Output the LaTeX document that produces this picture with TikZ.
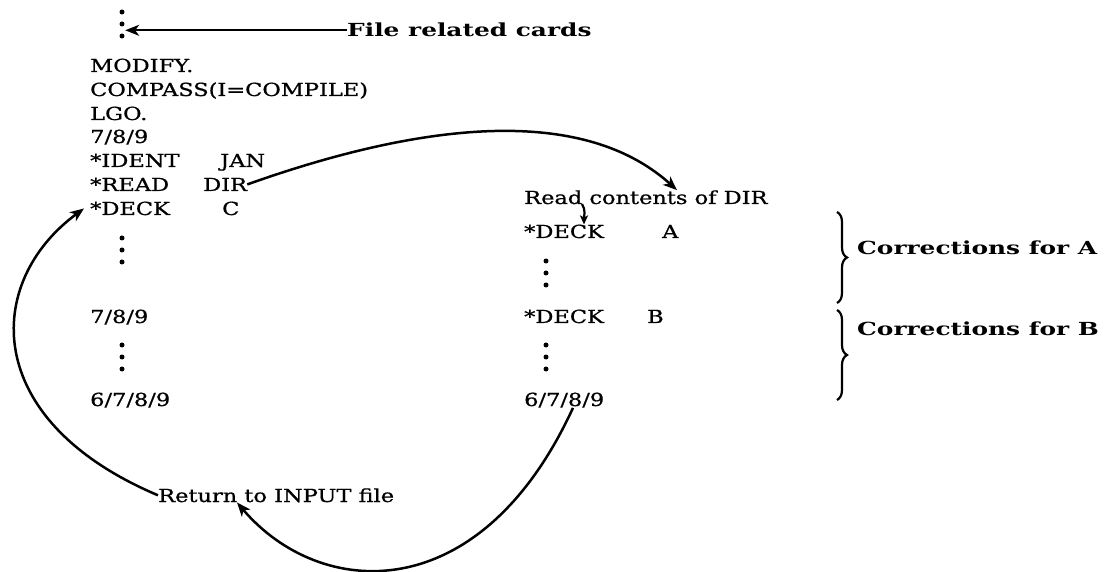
\documentclass[tikz,border=0pt]{standalone}
\usepackage{fontspec}
\setmainfont{DejaVu Serif}[FakeStretch = 1.25, FakeBold = 0.8]
\newfontfamily\notefont{DejaVu Serif}[FakeStretch = 1.38]
\usetikzlibrary{arrows.meta}
\usetikzlibrary{decorations.pathreplacing}
\tikzset{card/.style = {anchor = base west, inner sep = 0}}
\tikzset{note/.style = {anchor = base west, inner sep = 0, font = \fontsize{18}{20}\notefont\bfseries}}
\tikzset{circ/.style = {fill, circle, inner sep = 0, minimum size = 5}}
\tikzset{link/.style = {line width = 2.5, -{Stealth[length = 14pt, width = 11pt, inset = 4pt]}}}
\tikzset{bracket/.style = {line width = 2.2, decorate, decoration = {brace, amplitude = 10}}}

\begin{document}
\begin{tikzpicture}[x = 1pt, y = -1pt, font = \fontsize{18}{20}\selectfont]
      \useasboundingbox (0, 0) rectangle (1104, 572);

      \node [minimum width = 6, minimum height = 30, inner sep = 0] (topdots) at (122, 24) {};
      \foreach \y in {12, 24, 36} {
        \node [circ] at (122, \y) {};
      }
      \node [note] (filecards) at (347, 37) {File related cards};
      \draw [link, line width = 1.6] (filecards.west) -- (filecards.west -| topdots.east);

      \node [card] (modify) at (90, 72) {MODIFY.};
      \node [card] (compass) at (90, 96) {COMPASS(I=COMPILE)};
      \node [card] (lgo) at (90, 120) {LGO.};
      \node [card] (eorone) at (90, 143) {7/8/9};
      \node [card] (ident) at (90, 167) {*IDENT};
      \node [card] (jan) at (220, 167) {JAN};
      \node [card] (read) at (90, 191) {*READ};
      \node [card] (dir) at (203, 191) {DIR};
      \node [card] (deckc) at (90, 215) {*DECK};
      \node [card] (c) at (222, 215) {C};
      \foreach \y in {238, 250, 262, 345, 357, 369} {
        \node [circ] at (122, \y) {};
      }
      \node [card] (eortwo) at (90, 323) {7/8/9};
      \node [card] (eofleft) at (90, 406) {6/7/8/9};

      \node [card] (readdir) at (524, 204) {Read contents of DIR};
      \node [card] (decka) at (524, 238) {*DECK};
      \node [card] (a) at (662, 238) {A};
      \node [card] (deckb) at (524, 323) {*DECK};
      \node [card] (b) at (647, 323) {B};
      \foreach \y in {261, 273, 285, 345, 357, 369} {
        \node [circ] at (546, \y) {};
      }
      \node [card] (eofright) at (524, 406) {6/7/8/9};

      \draw [bracket] (837, 212) -- (837, 303);
      \draw [bracket] (837, 310) -- (837, 400);
      \node [note] (corra) at (857, 255) {Corrections for A};
      \node [note] (corrb) at (857, 335) {Corrections for B};

      \node [card] (return) at (158, 502) {Return to INPUT file};

      \draw [link] (dir.east) .. controls (400, 130) and (575, 98) .. ([xshift = 153]readdir.north west);
      \draw [line width = 2.2, -{Stealth[length = 9pt, width = 8pt, inset = 2pt]}] ([xshift = 58]readdir.base west) .. controls +(4, 6) and +(0, -8) .. ([xshift = 60]decka.north west);
      \draw [link] (return.west) .. controls (-20, 420) and (-16, 282) .. ([xshift = -6]deckc.west);
      \draw [link] ([xshift = 49]eofright.south west) .. controls (480, 610) and (320, 600) .. ([xshift = 79]return.south west);
    \end{tikzpicture}
\end{document}
